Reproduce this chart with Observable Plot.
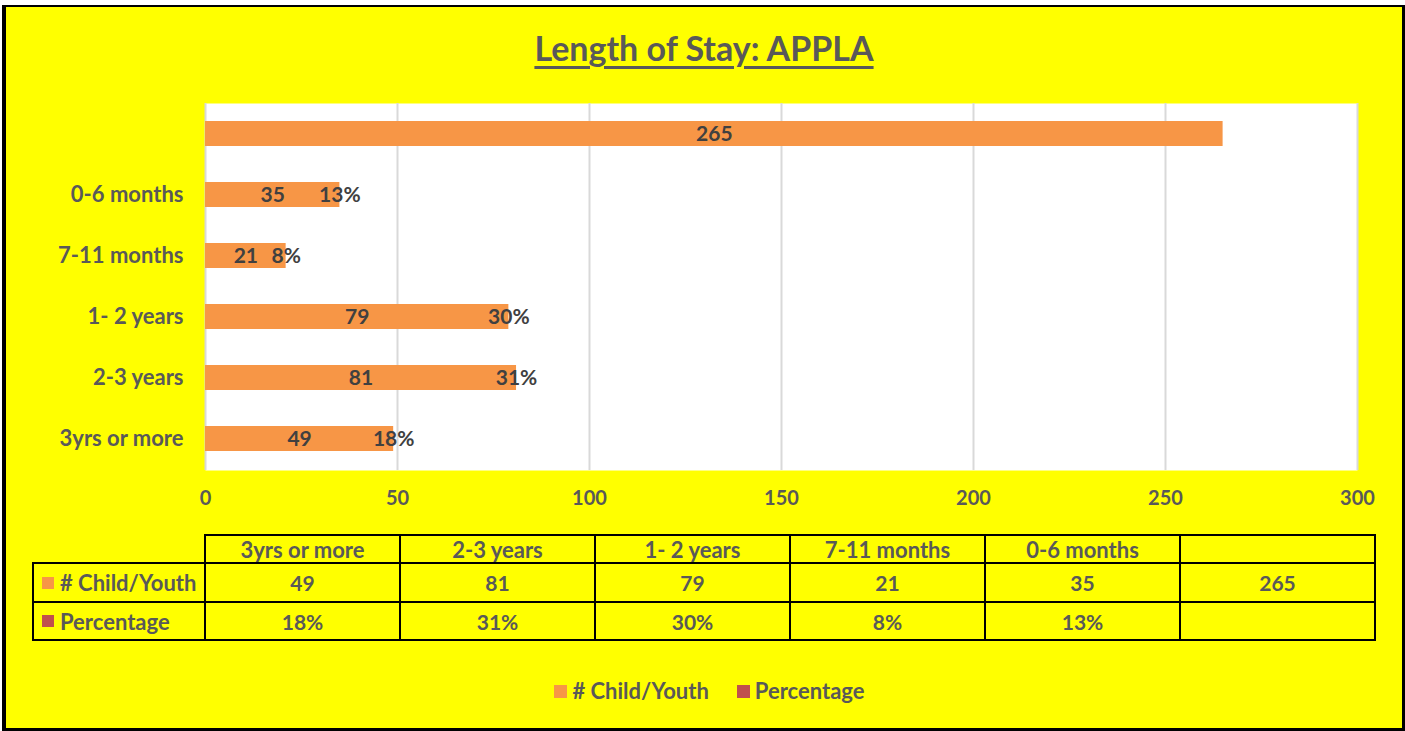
<!DOCTYPE html>
<html><head><meta charset="utf-8">
<script src="https://cdn.jsdelivr.net/npm/d3@7"></script>
<script src="https://cdn.jsdelivr.net/npm/@observablehq/plot@0.6"></script>
<style>
body{margin:0;background:#ffffff;}
#page{position:relative;width:1405px;height:731px;overflow:hidden;font-family:Lato,"Open Sans",sans-serif;font-weight:bold;color:#595959;}
#bg{position:absolute;left:2px;top:5px;width:1403px;height:726px;box-sizing:border-box;border:4px solid #000;border-top-width:2px;border-right-width:3px;border-bottom-width:3px;background:#ffff00;}
#title{position:absolute;left:0;width:1408px;top:31px;line-height:34px;text-align:center;font-size:34px;text-decoration:underline;text-decoration-thickness:3px;text-underline-offset:5px;}
#chart{position:absolute;left:0;top:0;}
.cell{position:absolute;box-sizing:border-box;border:2px solid #000;display:flex;align-items:center;justify-content:center;font-size:21px;color:#595959;}
.hdr{font-size:22px;}
.rowlab{justify-content:flex-start;padding-left:8px;font-size:22px;}
.sw{display:inline-block;width:12px;height:12px;margin-right:6px;}
#legend{position:absolute;left:0;width:1419px;top:679px;display:flex;justify-content:center;align-items:center;font-size:22px;line-height:24px;}
#legend .item{display:flex;align-items:center;margin:0 14px;}
#legend .sw{width:13px;height:13px;margin-right:5px;}
</style>
</head>
<body>
<div id="page">
  <div id="bg"></div>
  <div id="chart"></div>
  <div id="title">Length of Stay: APPLA</div>
  <div id="table"></div>
  <div id="legend"></div>
</div>
<script>
const categories = ["", "0-6 months", "7-11 months", "1- 2 years", "2-3 years", "3yrs or more"];
const counts = [265, 35, 21, 79, 81, 49];
const percents = ["", "13%", "8%", "30%", "31%", "18%"];
const xTicks = [0, 50, 100, 150, 200, 250, 300];
const seriesNames = ["# Child/Youth", "Percentage"];
const seriesColors = ["#F79646", "#C0504D"];

const data = categories.map((c, i) => ({cat: c, count: counts[i], pct: percents[i]}));

const chart = Plot.plot({
  width: 1405,
  height: 731,
  marginLeft: 205,
  marginRight: 48,
  marginTop: 103,
  marginBottom: 261,
  style: {background: "transparent", fontFamily: "Lato, 'Open Sans', sans-serif", fontWeight: "bold", fontSize: "20px", color: "#595959"},
  x: {domain: [0, 300]},
  y: {domain: categories, paddingInner: 0.59, paddingOuter: 0.295},
  marks: [
    Plot.frame({fill: "white", stroke: null}),
    Plot.gridX(xTicks, {stroke: "#D9D9D9", strokeWidth: 2, strokeOpacity: 1}),
    Plot.barX(data, {x: "count", y: "cat", fill: seriesColors[0]}),
    Plot.text(data, {x: d => d.count / 2, y: "cat", text: d => String(d.count), fill: "#404040", fontSize: 21, fontWeight: "bold"}),
    Plot.text(data.filter(d => d.pct), {x: "count", y: "cat", text: "pct", fill: "#404040", fontSize: 21, fontWeight: "bold"}),
    Plot.axisX({ticks: xTicks, tickSize: 0, tickPadding: 20, label: null, fill: "#595959", fontSize: 20}),
    Plot.axisY({tickSize: 0, tickPadding: 22, label: null, fill: "#595959", fontSize: 22})
  ]
});
document.getElementById("chart").appendChild(chart);

// data table
const colX = [33, 205, 400, 595, 790, 985, 1180, 1375];
const rowY = [535, 563, 602, 640];
const tableCats = [...categories].reverse();
const tableCounts = [...counts].reverse();
const tablePcts = [...percents].reverse();
const tbl = document.getElementById("table");
function cell(c, r, html, cls) {
  const d = document.createElement("div");
  d.className = "cell" + (cls ? " " + cls : "");
  d.style.left = (colX[c] - 1) + "px";
  d.style.top = (rowY[r] - 1) + "px";
  d.style.width = (colX[c + 1] - colX[c] + 2) + "px";
  d.style.height = (rowY[r + 1] - rowY[r] + 2) + "px";
  d.innerHTML = html;
  tbl.appendChild(d);
}
tableCats.forEach((c, i) => cell(i + 1, 0, c, "hdr"));
cell(0, 1, `<span class="sw" style="background:${seriesColors[0]}"></span>${seriesNames[0]}`, "rowlab");
cell(0, 2, `<span class="sw" style="background:${seriesColors[1]}"></span>${seriesNames[1]}`, "rowlab");
tableCounts.forEach((v, i) => cell(i + 1, 1, String(v)));
tablePcts.forEach((v, i) => cell(i + 1, 2, v));

// legend
const lg = document.getElementById("legend");
seriesNames.forEach((n, i) => {
  const it = document.createElement("div");
  it.className = "item";
  it.innerHTML = `<span class="sw" style="background:${seriesColors[i]}"></span>${n}`;
  lg.appendChild(it);
});
</script>
</body></html>
